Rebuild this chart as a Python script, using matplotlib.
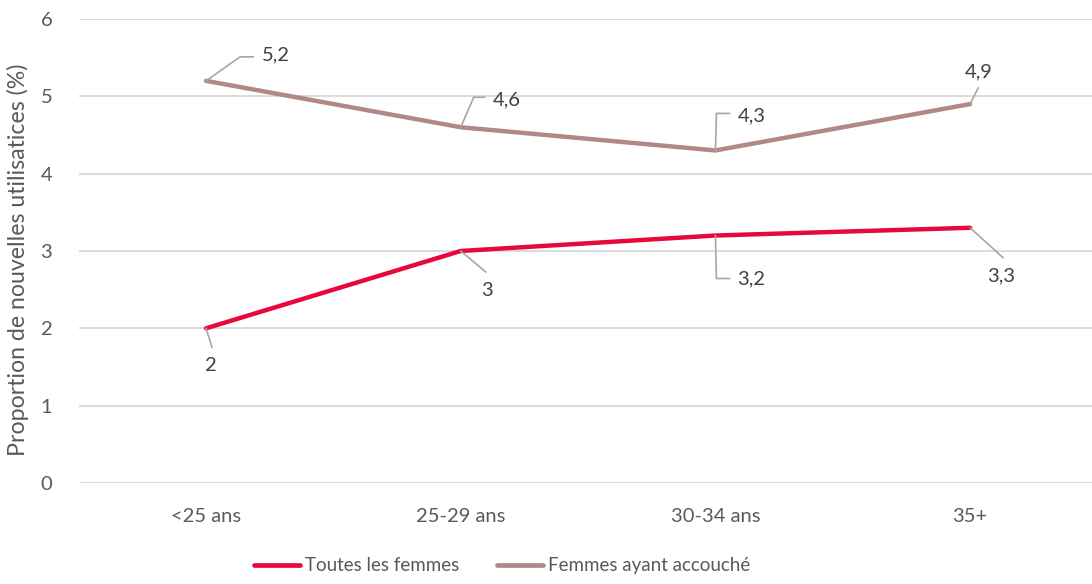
import matplotlib
matplotlib.use("Agg")
import matplotlib.pyplot as plt
import matplotlib.transforms as mtransforms
from matplotlib.lines import Line2D

plt.rcParams['font.family'] = ['Lato', 'DejaVu Sans']

categories = ["<25 ans", "25-29 ans", "30-34 ans", "35+"]
toutes = [2.0, 3.0, 3.2, 3.3]
accouche = [5.2, 4.6, 4.3, 4.9]
toutes_labels = ["2", "3", "3,2", "3,3"]
accouche_labels = ["5,2", "4,6", "4,3", "4,9"]
y_ticks = [0, 1, 2, 3, 4, 5, 6]

RED = "#E8083A"
BROWN = "#B38687"
GREY_TXT = "#595959"
GRID = "#D9D9D9"
LEADER = "#A6A6A6"
FS = 14.5

fig = plt.figure(figsize=(10.92, 5.84), dpi=100)
ax = fig.add_axes([0.0721, 0.173, 0.928, 0.7945])

x = list(range(len(categories)))
ax.plot(x, toutes, color=RED, lw=3.2, solid_capstyle='round', zorder=3)
ax.plot(x, accouche, color=BROWN, lw=3.2, solid_capstyle='round', zorder=3)

ax.set_xlim(-0.5, 3.479)
ax.set_ylim(0, 6)
ax.set_yticks(y_ticks)
ax.set_xticks(x)
ax.set_xticklabels(categories)
ax.yaxis.grid(True, color=GRID, lw=1.3)
ax.set_axisbelow(True)
for s in ax.spines.values():
    s.set_visible(False)
ax.tick_params(axis='both', length=0, labelsize=FS, colors=GREY_TXT)
ax.tick_params(axis='y', pad=19)
ax.tick_params(axis='x', pad=18)
ax.set_ylabel("Proportion de nouvelles utilisatices (%)", fontsize=16.7,
              color=GREY_TXT)
ax.yaxis.set_label_coords(-0.049, 0.48)


def leader_label(xi, yi, text, verts, tx, ty, ha):
    """Grey leader line (pixel offsets from the point) plus its value label."""
    trans = mtransforms.Affine2D() + mtransforms.ScaledTranslation(xi, yi, ax.transData)
    xs = [v[0] for v in verts]
    ys = [v[1] for v in verts]
    ax.add_line(Line2D(xs, ys, transform=trans, color=LEADER, lw=1.2, zorder=4,
                       clip_on=False))
    ax.annotate(text, xy=(xi, yi), xytext=(tx, ty), textcoords='offset pixels',
                ha=ha, va='center', fontsize=FS, color="#404040", zorder=5)


# labels for "Femmes ayant accouché"
acc_leaders = [
    ([(0, 0), (34, 24), (47, 24)], 56, 26, 'left'),
    ([(0, 0), (13, 30), (24, 30)], 32, 27, 'left'),
    ([(0, 0), (1, 37), (14, 37)], 22, 35, 'left'),
    ([(0, 0), (8, 16)], 9, 32, 'center'),
]
for xi, yi, lab, (verts, tx, ty, ha) in zip(x, accouche, accouche_labels, acc_leaders):
    leader_label(xi, yi, lab, verts, tx, ty, ha)

# labels for "Toutes les femmes"
tout_leaders = [
    ([(0, 0), (6, -19)], 5, -37, 'center'),
    ([(0, 0), (25, -21)], 26, -40, 'center'),
    ([(0, 0), (1, -43), (14, -43)], 22, -43, 'left'),
    ([(0, 0), (33, -30)], 31, -48, 'center'),
]
for xi, yi, lab, (verts, tx, ty, ha) in zip(x, toutes, toutes_labels, tout_leaders):
    leader_label(xi, yi, lab, verts, tx, ty, ha)

handles = [Line2D([], [], color=RED, lw=3.4, solid_capstyle='round'),
           Line2D([], [], color=BROWN, lw=3.4, solid_capstyle='round')]
leg = fig.legend(handles, ["Toutes les femmes", "Femmes ayant accouché"],
                 loc='center', bbox_to_anchor=(0.46, 0.031), ncol=2, frameon=False,
                 fontsize=13.5, handlelength=2.45, handletextpad=0.27,
                 columnspacing=2.0)
for t in leg.get_texts():
    t.set_color(GREY_TXT)

fig.savefig("out.png", dpi=100)
